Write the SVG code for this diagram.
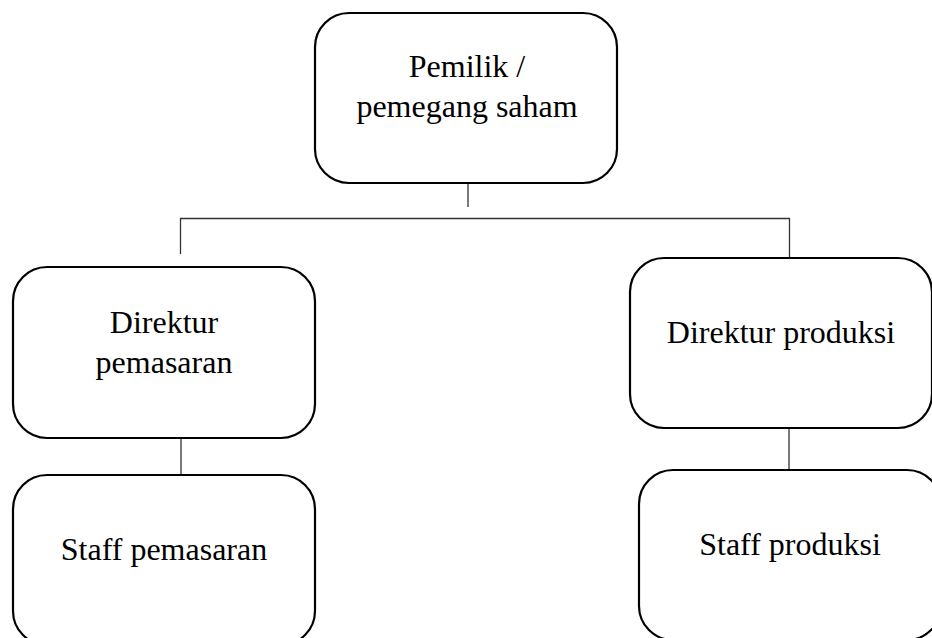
<svg xmlns="http://www.w3.org/2000/svg" width="932" height="638" viewBox="0 0 932 638">
<style>
.box{fill:#fff;stroke:#000;stroke-width:2.2}
.lbl{font-family:"Liberation Serif","Times New Roman",serif;font-size:32px;fill:#000;text-anchor:middle}
.conn{stroke:#333;stroke-width:1.3;fill:none}
</style>
<rect width="932" height="638" fill="#fff"/>
<g id="connectors">
<line class="conn" x1="468" y1="183" x2="468" y2="207"/>
<line class="conn" x1="180" y1="218.5" x2="790" y2="218.5"/>
<line class="conn" x1="180.5" y1="218" x2="180.5" y2="254"/>
<line class="conn" x1="789.5" y1="218" x2="789.5" y2="258"/>
<line class="conn" x1="181" y1="438" x2="181" y2="475"/>
<line class="conn" x1="789" y1="428" x2="789" y2="470"/>
</g>
<g id="pemilik">
<rect class="box" x="315" y="13" width="302" height="170" rx="34" ry="34"/>
<text class="lbl" x="467" y="77">Pemilik /</text>
<text class="lbl" x="467" y="117">pemegang saham</text>
</g>
<g id="dir-pemasaran">
<rect class="box" x="13" y="267" width="302" height="171" rx="34" ry="34"/>
<text class="lbl" x="164" y="333">Direktur</text>
<text class="lbl" x="164" y="373">pemasaran</text>
</g>
<g id="dir-produksi">
<rect class="box" x="630" y="258" width="302" height="170" rx="34" ry="34"/>
<text class="lbl" x="781" y="343">Direktur produksi</text>
</g>
<g id="staff-pemasaran">
<rect class="box" x="13" y="475" width="302" height="170" rx="34" ry="34"/>
<text class="lbl" x="164" y="560">Staff pemasaran</text>
</g>
<g id="staff-produksi">
<rect class="box" x="639" y="470" width="302" height="170" rx="34" ry="34"/>
<text class="lbl" x="790" y="555">Staff produksi</text>
</g>
</svg>
